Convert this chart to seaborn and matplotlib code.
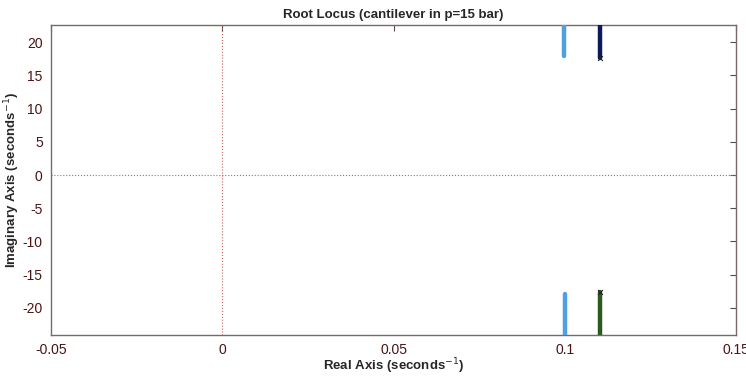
import numpy as np
import pandas as pd
import seaborn as sns
import matplotlib.pyplot as plt

# root locus branches
branch_ids = ['b1_up', 'b1_dn', 'b2_up', 'b2_dn']
branch_re = [[0.0999, 0.0999], [0.1001, 0.1001], [0.1103, 0.1103], [0.1103, 0.1103]]
branch_im = [[18.0, 24.0], [-18.0, -25.0], [17.7, 24.0], [-17.7, -25.0]]
branch_colors = ['#4f9fe3', '#4f9fe3', '#0b1a58', '#2c5a1c']
pole_re = [0.1103, 0.1103]
pole_im = [17.6, -17.6]

rows = []
for bid, xs, ys in zip(branch_ids, branch_re, branch_im):
    for x, y in zip(xs, ys):
        rows.append({'branch': bid, 're': x, 'im': y})
df = pd.DataFrame(rows)

sns.set_style('white')
plt.rcParams['font.family'] = ['Liberation Sans', 'DejaVu Sans']
plt.rcParams['axes.unicode_minus'] = False

fig = plt.figure(figsize=(7.46, 3.78), dpi=100)
ax = fig.add_axes([0.0684, 0.1138, 0.9182, 0.8201])

# dotted axes through origin
ax.axhline(0, color='#c06060', lw=0.8, ls=':', zorder=1)
ax.axvline(0, color='#c06060', lw=0.8, ls=':', zorder=1)

sns.lineplot(data=df, x='re', y='im', hue='branch', palette=dict(zip(branch_ids, branch_colors)),
             sort=False, estimator=None, lw=3.2, legend=False, ax=ax, zorder=3)
sns.scatterplot(x=pole_re, y=pole_im, marker='x', color='#222222', s=12, linewidth=0.8, ax=ax, zorder=4)

ax.set_xlim(-0.05, 0.15)
ax.set_ylim(-24.1, 22.6)
ax.set_xticks([-0.05, 0, 0.05, 0.1, 0.15])
ax.set_xticklabels(['-0.05', '0', '0.05', '0.1', '0.15'])
ax.set_yticks([-20, -15, -10, -5, 0, 5, 10, 15, 20])

for s in ax.spines.values():
    s.set_color('#7a6868')
    s.set_linewidth(1.0)
ax.tick_params(direction='in', length=4, color='#5a4a4a', labelcolor='#4a1414', labelsize=10,
               top=True, right=True, pad=6)

ax.set_xlabel('Real Axis (seconds$^{-1}$)', fontsize=9.5, fontweight='bold')
ax.xaxis.set_label_coords(0.5, -0.07)
ax.set_ylabel('Imaginary Axis (seconds$^{-1}$)', fontsize=9.5, fontweight='bold')
ax.yaxis.set_label_coords(-0.042, 0.5)
ax.set_title('Root Locus (cantilever in p=15 bar)', fontsize=9.5, fontweight='bold', pad=5)

fig.savefig('out.png', dpi=100)
